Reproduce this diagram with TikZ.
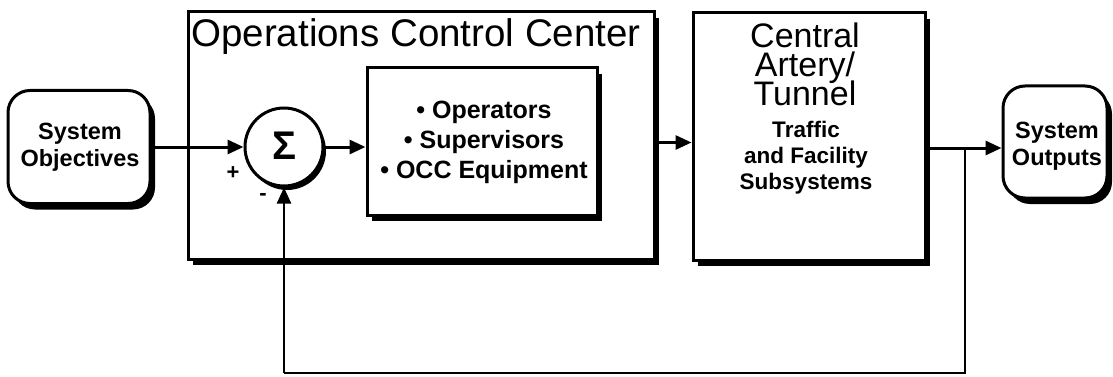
\documentclass[tikz,border=0pt]{standalone}
\usepackage{fontspec}
\setmainfont{Liberation Sans}
\usetikzlibrary{arrows.meta,shadows}
\newcommand{\tightlines}{\setlength{\lineskiplimit}{-50pt}}
\begin{document}
\begin{tikzpicture}[x=1pt,y=-1pt,
  boxshadow/.style={drop shadow={shadow xshift=5pt,shadow yshift=-6pt,fill=black,opacity=1}},
  blockbox/.style={draw,line width=3pt,fill=white,rectangle,inner sep=0pt,boxshadow},
  roundbox/.style={blockbox,rounded corners=22pt},
  tip/.style={-{Triangle[length=16pt,width=14pt]}},
  arr/.style={line width=3pt,tip},
  fb/.style={line width=2.4pt},
  smalltxt/.style={font=\bfseries\fontsize{23.5}{27}\selectfont\tightlines,align=center,inner sep=0pt},
  listtxt/.style={font=\bfseries\fontsize{25}{30}\selectfont\tightlines,align=center,inner sep=0pt},
  bigtxt/.style={font=\fontsize{34}{29}\selectfont\tightlines,align=center,inner sep=0pt},
  signtxt/.style={font=\bfseries\fontsize{22}{22}\selectfont,inner sep=0pt}]
\useasboundingbox (0,0) rectangle (1113,377);

% blocks
\node[roundbox,minimum width=142pt,minimum height=113pt] (obj) at (79,147) {};
\node[smalltxt] (objtxt) at (80,147) {System\\Objectives};

\node[blockbox,minimum width=466pt,minimum height=247pt] (occ) at (421,135.5) {};
\node[font=\fontsize{38.5}{40}\selectfont,inner sep=0pt,anchor=base] (occtxt) at (416,47) {Operations Control Center};

\node[blockbox,minimum width=230pt,minimum height=147pt] (inner) at (482,141.5) {};
\node[listtxt] (innertxt) at (484,142) {\textbullet\ Operators\\\textbullet\ Supervisors\\\textbullet\ OCC Equipment};

\node[circle,draw,line width=3pt,fill=white,minimum size=78pt,inner sep=0pt,
  drop shadow={shadow xshift=3pt,shadow yshift=-4pt,fill=black,opacity=1}] (sum) at (284,147) {};
\node[font=\bfseries\fontsize{40}{40}\selectfont,inner sep=0pt] (sigma) at (284,146) {Σ};

\node[blockbox,minimum width=232pt,minimum height=247pt] (central) at (809,136.5) {};
\node[bigtxt] (centraltxt) at (805,64) {Central\\Artery/\\Tunnel};
\node[smalltxt,font=\bfseries\fontsize{22.5}{26}\selectfont\tightlines] (traffictxt) at (806,158) {Traffic\\and Facility\\Subsystems};

\node[roundbox,minimum width=104pt,minimum height=112pt] (out) at (1055,142) {};
\node[smalltxt] (outtxt) at (1057,146) {System\\Outputs};

\node[signtxt] (plus) at (233,173) {+};
\node[signtxt] (minus) at (263,197) {-};

% connectors
\coordinate (J) at (965,148);
\coordinate (B) at (284,373);
\draw[arr] (obj.east |- sum) -- (sum.west);
\draw[arr] (sum.east) -- (sum.east -| inner.west);
\draw[arr] ([yshift=-7pt]occ.east) -- ([yshift=-7pt]occ.east -| central.west);
\draw[line width=3pt] (central.east |- J) -- (J);
\draw[arr] (J) -- (J -| out.west);
\draw[fb] (J) |- (B);
\draw[fb,tip] (B) -- (sum.south);
\end{tikzpicture}
\end{document}
